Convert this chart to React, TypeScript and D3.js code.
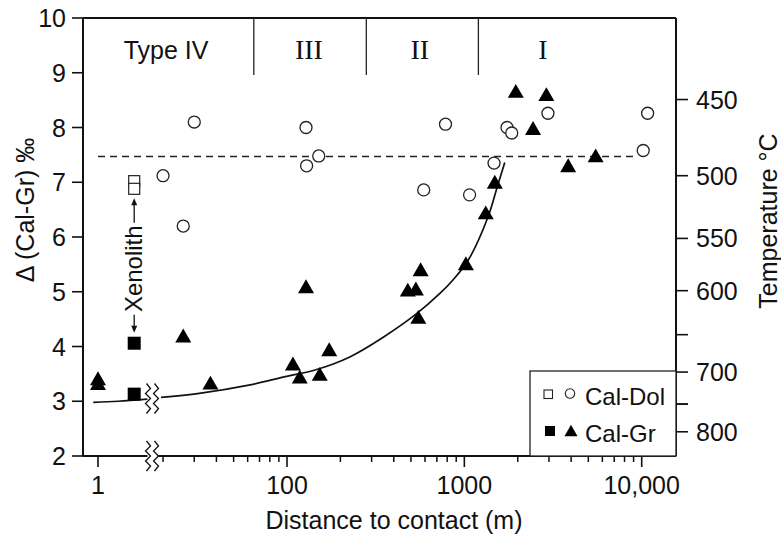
import React from "react";
import * as d3 from "d3";

const width = 781;
const height = 536;

// distance to contact (m), Δ(Cal-Gr) ‰
const dolCircles: [number, number][] = [
  [20, 7.12], [26, 6.2], [30, 8.1], [128, 8.0], [129, 7.3], [151, 7.48],
  [590, 6.86], [783, 8.06], [1070, 6.77], [1470, 7.35], [1740, 8.0],
  [1850, 7.9], [2960, 8.26], [10200, 7.58], [10800, 8.26],
];
const dolSquares: [number, number][] = [[1.6, 7.02], [1.6, 6.88]];
const grSquares: [number, number][] = [[1.6, 4.06], [1.6, 3.13]];
const grTriangles: [number, number][] = [
  [1, 3.42], [1, 3.33], [26, 4.2], [37, 3.34], [108, 3.69], [118, 3.45],
  [128, 5.1], [153, 3.5], [173, 3.95], [480, 5.04], [533, 5.06], [550, 4.54],
  [567, 5.41], [1020, 5.52], [1320, 6.45], [1485, 7.01], [1950, 8.67],
  [2440, 7.99], [2900, 8.61], [3850, 7.31], [5500, 7.49],
];

// model curve
const curveLeft: [number, number][] = [[0.94, 2.98], [1.3, 3.0], [1.9, 3.04]];
const curveRight: [number, number][] = [
  [19.5, 3.07], [32, 3.145], [62, 3.3], [95, 3.44], [147, 3.58], [226, 3.81],
  [349, 4.17], [538, 4.6], [728, 4.97], [865, 5.22], [1053, 5.58],
  [1361, 6.37], [1534, 6.92], [1690, 7.36],
];

const dashedLevel = 7.47;
const dashedFrom = 1;
const dashedTo = 9000;

const zoneBounds = [65, 280, 1200];
const zoneNames = ["Type IV", "III", "II", "I"];
const zoneNameAt = [20.8, 133, 561, 2770];

const yTicks = [2, 3, 4, 5, 6, 7, 8, 9, 10];
const xMajor = [1, 100, 1000, 10000];
const xMajorLabels = ["1", "100", "1000", "10,000"];
const xMinor = [20, 30, 40, 50, 60, 70, 80, 90, 200, 300, 400, 500, 600, 700, 800, 900,
  2000, 3000, 4000, 5000, 6000, 7000, 8000, 9000];
const tempTicks = [450, 500, 550, 600, 650, 700, 750, 800];
const tempLabels = [450, 500, 550, 600, 700, 800];

// Δ(Cal-Gr) = 5.813e6 / T^2 - 2.605 (T in K)
const tempToDelta = (t: number) => 5.813e6 / ((t + 273.15) * (t + 273.15)) - 2.605;

const font = "'Liberation Sans', Arial, Helvetica, sans-serif";
const serif = "'Liberation Serif', 'Times New Roman', serif";

const L = 83, R = 676, T = 18, B = 456;

const y = d3.scaleLinear().domain([2, 10]).range([B, T]);
const xL = d3.scaleLog().domain([1, 10]).range([98, 275.35]);
const xR = d3.scaleLog().domain([100, 10000]).range([287, 641.7]);
const x = (d: number) => (d < 10 ? xL(d) : xR(d));
const breakX = 152.5;

const tri = (cx: number, cy: number, s: number) => {
  const h = (s * Math.sqrt(3)) / 2;
  return `M${cx},${cy - h / 2}L${cx + s / 2},${cy + h / 2}L${cx - s / 2},${cy + h / 2}Z`;
};

const zig = (x0: number, cy: number) => {
  const pts: [number, number][] = [
    [x0 + 1, cy - 15], [x0 + 5, cy - 10], [x0, cy - 5], [x0 + 5, cy],
    [x0, cy + 5], [x0 + 5, cy + 10], [x0 + 1, cy + 15],
  ];
  return d3.line()(pts) as string;
};

const line = d3
  .line<[number, number]>()
  .x((d) => x(d[0]))
  .y((d) => y(d[1]))
  .curve(d3.curveCatmullRom.alpha(0.5));

export default function App() {
  const xc = x(1.6);
  const yc = y(5.42);
  const curveBreakY = y(3.05);
  return (
    <svg width={width} height={height} style={{ position: "absolute", left: 0, top: 0, background: "#fff" }}>
      <rect width={width} height={height} fill="#fff" />
      {/* frame */}
      <line x1={L} x2={R} y1={T} y2={T} stroke="#111" strokeWidth={2} />
      <line x1={L} x2={L} y1={T} y2={B} stroke="#111" strokeWidth={2} />
      <line x1={R} x2={R} y1={T} y2={B} stroke="#111" strokeWidth={2} />
      <line x1={L} x2={breakX - 5} y1={B} y2={B} stroke="#111" strokeWidth={2} />
      <line x1={breakX + 5} x2={R} y1={B} y2={B} stroke="#111" strokeWidth={2} />

      {/* zone dividers */}
      {zoneBounds.map((b) => (
        <line key={b} x1={x(b)} x2={x(b)} y1={T} y2={75} stroke="#222" strokeWidth={1.3} />
      ))}
      {zoneNames.map((n, i) => (
        <text key={n} x={x(zoneNameAt[i])} y={59} textAnchor="middle"
          fontFamily={i === 0 ? font : serif} fontSize={i === 0 ? 25 : 28} fill="#111">
          {n}
        </text>
      ))}

      {/* left axis */}
      {yTicks.map((t) => (
        <g key={t}>
          <line x1={L - 11} x2={L} y1={y(t)} y2={y(t)} stroke="#111" strokeWidth={1.6} />
          <text x={66} y={y(t)} dy="0.36em" textAnchor="end" fontFamily={font} fontSize={25} fill="#111">
            {t}
          </text>
        </g>
      ))}
      <text transform={`translate(34,210) rotate(-90)`} textAnchor="middle" fontFamily={font} fontSize={25} fill="#111">
        Δ (Cal-Gr) ‰
      </text>

      {/* right axis */}
      {tempTicks.map((t) => (
        <line key={t} x1={R} x2={R + 12} y1={y(tempToDelta(t))} y2={y(tempToDelta(t))} stroke="#111" strokeWidth={1.6} />
      ))}
      {tempLabels.map((t) => (
        <text key={t} x={696} y={y(tempToDelta(t))} dy="0.36em" fontFamily={font} fontSize={25} fill="#111">
          {t}
        </text>
      ))}
      <text transform={`translate(777,221) rotate(-90)`} textAnchor="middle" fontFamily={font} fontSize={25} fill="#111">
        Temperature °C
      </text>

      {/* bottom axis */}
      {xMajor.map((t, i) => (
        <g key={t}>
          <line x1={x(t)} x2={x(t)} y1={B} y2={B + 11} stroke="#111" strokeWidth={1.6} />
          <text x={x(t)} y={494} textAnchor="middle" fontFamily={font} fontSize={25} fill="#111">
            {xMajorLabels[i]}
          </text>
        </g>
      ))}
      {xMinor.map((t) => (
        <line key={t} x1={x(t)} x2={x(t)} y1={B} y2={B + 6} stroke="#111" strokeWidth={1.5} />
      ))}
      <text x={394} y={529} textAnchor="middle" fontFamily={font} fontSize={25} fill="#111">
        Distance to contact (m)
      </text>

      {/* axis breaks */}
      <path d={zig(breakX - 7, B)} fill="none" stroke="#111" strokeWidth={1.3} />
      <path d={zig(breakX + 1, B)} fill="none" stroke="#111" strokeWidth={1.3} />
      <path d={zig(breakX - 7, curveBreakY)} fill="none" stroke="#111" strokeWidth={1.3} />
      <path d={zig(breakX + 1, curveBreakY)} fill="none" stroke="#111" strokeWidth={1.3} />

      {/* dashed reference */}
      <line x1={x(dashedFrom)} x2={x(dashedTo)} y1={y(dashedLevel)} y2={y(dashedLevel)}
        stroke="#222" strokeWidth={1.3} strokeDasharray="7,5" />

      {/* curve */}
      <path d={line(curveLeft) as string} fill="none" stroke="#111" strokeWidth={1.7} />
      <path d={line(curveRight) as string} fill="none" stroke="#111" strokeWidth={1.7} />

      {/* xenolith */}
      <text transform={`translate(${xc + 8},${yc}) rotate(-90)`} textAnchor="middle" fontFamily={font} fontSize={24} fill="#111">
        Xenolith
      </text>
      <line x1={xc} x2={xc} y1={yc - 46} y2={y(6.71) + 4} stroke="#111" strokeWidth={1.3} />
      <path d={`M${xc},${y(6.71)}l-3,7l6,0Z`} fill="#111" />
      <line x1={xc} x2={xc} y1={yc + 46} y2={y(4.25) - 4} stroke="#111" strokeWidth={1.3} />
      <path d={`M${xc},${y(4.25)}l-3,-7l6,0Z`} fill="#111" />

      {/* data */}
      {dolSquares.map((d, i) => (
        <rect key={i} x={x(d[0]) - 5.5} y={y(d[1]) - 5.5} width={11} height={11} fill="#fff" stroke="#222" strokeWidth={1.2} />
      ))}
      {grSquares.map((d, i) => (
        <rect key={i} x={x(d[0]) - 6.5} y={y(d[1]) - 6.5} width={13} height={13} fill="#000" />
      ))}
      {dolCircles.map((d, i) => (
        <circle key={i} cx={x(d[0])} cy={y(d[1])} r={6} fill="#fff" stroke="#222" strokeWidth={1.3} />
      ))}
      {grTriangles.map((d, i) => (
        <path key={i} d={tri(x(d[0]), y(d[1]), 16)} fill="#000" />
      ))}

      {/* legend */}
      <rect x={530} y={371} width={R - 530} height={B - 371} fill="#fff" stroke="#222" strokeWidth={1.3} />
      <rect x={544} y={390} width={8.5} height={8.5} fill="#fff" stroke="#222" strokeWidth={1.1} />
      <circle cx={570} cy={393.5} r={4.7} fill="#fff" stroke="#222" strokeWidth={1.1} />
      <text x={585} y={405} fontFamily={font} fontSize={24} fill="#111">Cal-Dol</text>
      <rect x={545} y={426} width={10} height={10} fill="#000" />
      <path d={tri(571, 430.5, 13)} fill="#000" />
      <text x={585} y={442} fontFamily={font} fontSize={24} fill="#111">Cal-Gr</text>
      <line x1={R} x2={R + 12} y1={y(tempToDelta(750))} y2={y(tempToDelta(750))} stroke="#111" strokeWidth={1.6} />
    </svg>
  );
}
